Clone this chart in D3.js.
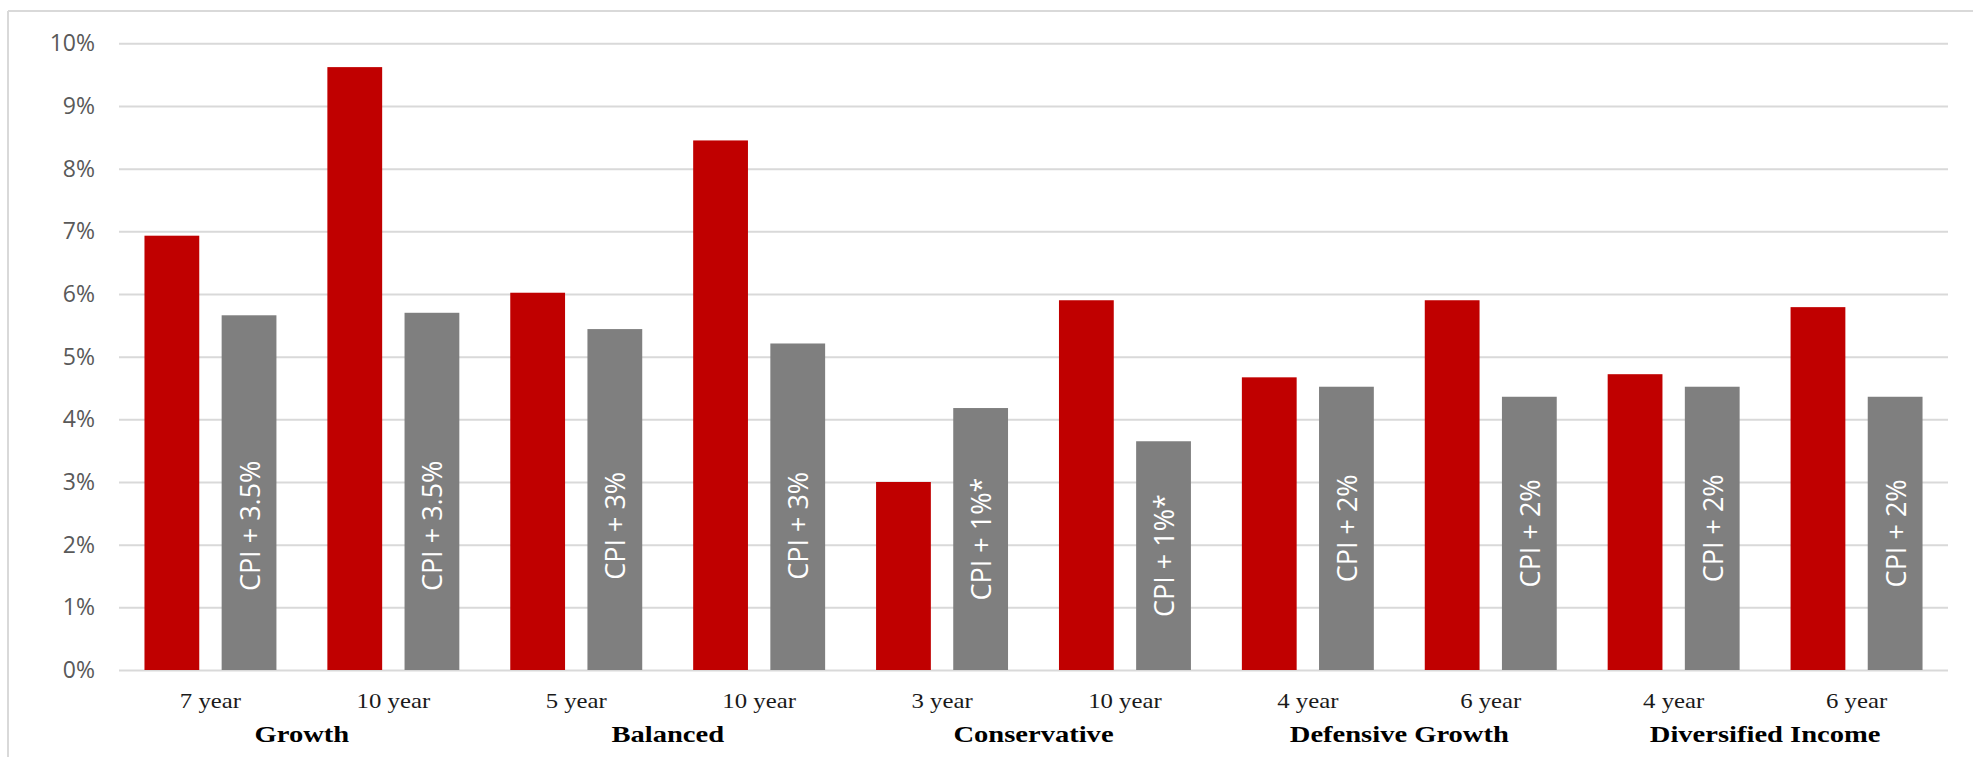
<!DOCTYPE html>
<html>
<head>
<meta charset="utf-8">
<script src="https://cdn.jsdelivr.net/npm/d3@7"></script>
<style>
  html, body { margin: 0; padding: 0; background: #ffffff; }
  svg { display: block; }
</style>
</head>
<body>
<svg id="chart" width="1973" height="757"></svg>
<script>
// Portfolio returns against their CPI-plus objectives, by fund and time period
const groups = ["Growth", "Balanced", "Conservative", "Defensive Growth", "Diversified Income"];
const periods = ["7 year", "10 year", "5 year", "10 year", "3 year", "10 year", "4 year", "6 year", "4 year", "6 year"];
const periodGroup = [0, 0, 1, 1, 2, 2, 3, 3, 4, 4];
const fundReturns = [6.93, 9.62, 6.02, 8.45, 3.0, 5.9, 4.67, 5.9, 4.72, 5.79];
const objectiveReturns = [5.66, 5.70, 5.44, 5.21, 4.18, 3.65, 4.52, 4.36, 4.52, 4.36];
const objectiveLabels = ["CPI + 3.5%", "CPI + 3.5%", "CPI + 3%", "CPI + 3%", "CPI + 1%*", "CPI + 1%*",
                         "CPI + 2%", "CPI + 2%", "CPI + 2%", "CPI + 2%"];
const yTicks = [0, 1, 2, 3, 4, 5, 6, 7, 8, 9, 10];
const seriesKeys = ["fund", "objective"];

const svg = d3.select("#chart");
const W = 1973, H = 757;
const plot = { left: 119, right: 1948, top: 43.3, bottom: 670 };

// chart frame: thin rule along the top and left edges
svg.append("line").attr("x1", 8).attr("x2", W).attr("y1", 11).attr("y2", 11)
  .attr("stroke", "#d9d9d9").attr("stroke-width", 2);
svg.append("line").attr("x1", 8).attr("x2", 8).attr("y1", 11).attr("y2", H)
  .attr("stroke", "#d9d9d9").attr("stroke-width", 2);

const x = d3.scaleBand()
  .domain(d3.range(periods.length))
  .range([plot.left, plot.right])
  .paddingInner(0).paddingOuter(0);

const xs = d3.scaleBand()
  .domain(seriesKeys)
  .range([0, x.bandwidth()])
  .paddingInner(0.29).paddingOuter(0.33);

const y = d3.scaleLinear().domain([0, 10]).range([plot.bottom, plot.top]);

// value axis with horizontal gridlines
const yAxis = d3.axisLeft(y)
  .tickValues(yTicks)
  .tickSize(-(plot.right - plot.left))
  .tickPadding(24)
  .tickFormat(d => d + "%");

const gy = svg.append("g")
  .attr("transform", `translate(${plot.left},0)`)
  .call(yAxis);
gy.select(".domain").remove();
gy.selectAll(".tick line").attr("stroke", "#d9d9d9").attr("stroke-width", 2);
gy.selectAll(".tick text")
  .attr("fill", "#595959")
  .style("font-family", "'Open Sans', sans-serif")
  .style("font-size", "23px");

// bars
const rows = d3.range(periods.length).map(i => ({
  i,
  fund: fundReturns[i],
  objective: objectiveReturns[i],
  label: objectiveLabels[i]
}));

const colors = { fund: "#c00000", objective: "#7f7f7f" };

const bandG = svg.append("g").selectAll("g")
  .data(rows).join("g")
  .attr("transform", d => `translate(${x(d.i)},0)`);

bandG.selectAll("rect")
  .data(d => seriesKeys.map(k => ({ key: k, value: d[k] })))
  .join("rect")
  .attr("x", d => xs(d.key))
  .attr("width", xs.bandwidth())
  .attr("y", d => y(d.value))
  .attr("height", d => y(0) - y(d.value))
  .attr("fill", d => colors[d.key]);

// objective labels written up the grey bars
const labelLevel = 2.3;
bandG.append("text")
  .attr("transform", d => {
    const cx = xs("objective") + xs.bandwidth() / 2;
    const cy = y(Math.min(labelLevel, d.objective / 2));
    return `translate(${cx},${cy}) rotate(-90)`;
  })
  .attr("text-anchor", "middle")
  .attr("dominant-baseline", "central")
  .attr("fill", "#ffffff")
  .style("font-family", "'Open Sans', sans-serif")
  .style("font-size", "27px")
  .text(d => d.label);

// period labels under each pair of bars
svg.append("g").selectAll("text")
  .data(rows).join("text")
  .attr("transform", d => `translate(${x(d.i) + x.bandwidth() / 2},707.5) scale(1.18,1)`)
  .attr("text-anchor", "middle")
  .attr("fill", "#1a1a1a")
  .style("font-family", "'Liberation Serif', 'Times New Roman', serif")
  .style("font-size", "21px")
  .text(d => periods[d.i]);

// fund names centred under their periods
const groupCenters = groups.map((g, gi) => {
  const idx = d3.range(periods.length).filter(i => periodGroup[i] === gi);
  const x0 = x(idx[0]);
  const x1 = x(idx[idx.length - 1]) + x.bandwidth();
  return { name: g, cx: (x0 + x1) / 2 };
});

svg.append("g").selectAll("text")
  .data(groupCenters).join("text")
  .attr("transform", d => `translate(${d.cx},741.5) scale(1.19,1)`)
  .attr("text-anchor", "middle")
  .attr("fill", "#000000")
  .style("font-family", "'Liberation Serif', 'Times New Roman', serif")
  .style("font-weight", "bold")
  .style("font-size", "24px")
  .text(d => d.name);
</script>
</body>
</html>
